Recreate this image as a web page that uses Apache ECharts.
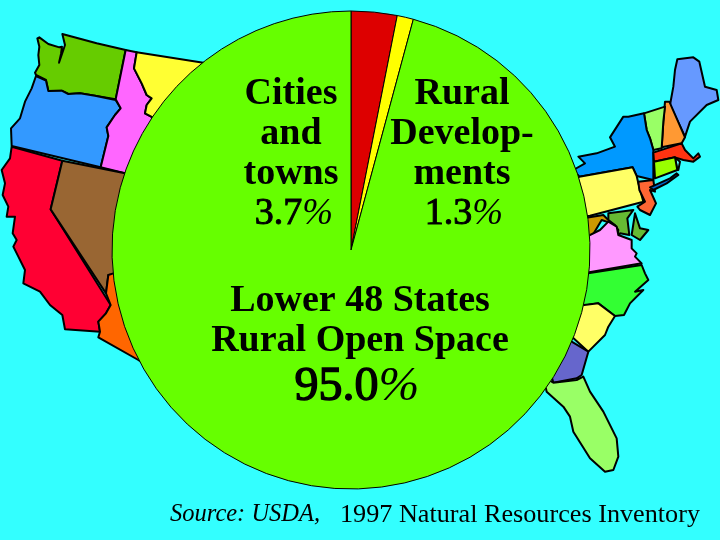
<!DOCTYPE html>
<html><head><meta charset="utf-8">
<style>html,body{margin:0;padding:0;background:#33ffff}#c{width:720px;height:540px}</style>
<script src="https://cdn.jsdelivr.net/npm/echarts@6/dist/echarts.min.js"></script>
</head><body><div id="c"></div>
<script>
// Slice shares as drawn in the picture (the angles), in % of the circle.
const categories = ['Cities and towns', 'Rural Developments', 'Lower 48 States Rural Open Space'];
const drawnShares = [3.1, 1.1, 95.8];
// Percentages as printed on the picture.
const printedLabels = ['3.7', '1.3', '95.0'];
const sliceColors = ['#dd0000', '#ffff00', '#66ff00'];

const W = [0, 30], E = [540, 50], S = [520, 210];
const states = [
 ['#66cc00', W, [112,25,118,22,145,42,178,52,186,50,183,72,177,98,190,60,195,45,187,12,290,40,377,60,347,208,285,197,240,190,205,192,185,182,145,183,138,150,108,135,105,128,118,105,115,75,118,50]],
 ['#3399ff', W, [108,138,138,152,145,183,185,182,205,192,240,190,285,197,347,210,362,235,345,255,320,292,325,318,302,412,35,348,33,295,60,265,75,215,95,175]],
 ['#ff66ff', W, [377,60,410,67,402,115,425,160,440,195,455,205,440,225,435,250,458,262,480,300,420,450,375,430,302,412,325,318,320,292,345,255,362,235,347,208]],
 ['#ffff33', W, [410,67,610,98,660,110,600,300,458,262,435,250,440,225,455,205,440,195,425,160,402,115]],
 ['#ff0033', W, [35,350,187,392,152,538,332,825,318,850,295,875,300,905,195,898,187,855,150,825,120,785,70,760,75,720,55,680,40,650,50,630,38,610,45,560,20,560,25,530,8,495,15,460,5,420,30,385]],
 ['#996633', W, [187,392,375,430,420,560,400,730,325,735,318,790,152,538]],
 ['#ff6600', W, [325,735,340,730,420,830,430,1000,415,990,295,922,300,905,295,875,318,850,332,825,318,790]],
 ['#6699ff', E, [412,28,460,22,478,35,495,110,530,120,535,150,500,165,450,215,435,260,390,165,400,110,405,60]],
 ['#ff9933', E, [375,155,388,155,435,262,425,280,365,292,370,215]],
 ['#99ff66', E, [312,190,375,170,370,215,365,295,340,300,330,265,320,240]],
 ['#0099ff', E, [312,190,320,240,330,265,340,300,340,390,290,378,278,352,118,380,100,360,135,340,115,320,170,310,225,290,210,262,250,200,265,200]],
 ['#66ffff', E, [405,322,420,335,415,360,412,360]],
 ['#ff3311', E, [340,308,425,280,435,300,460,325,475,310,480,320,460,335,430,330,405,322,342,335]],
 ['#99ff00', E, [342,335,405,322,412,360,345,385]],
 ['#ffff66', E, [118,380,278,352,290,378,295,400,310,455,150,497,100,500,90,400]],
 ['#ff6633', E, [295,395,340,390,345,425,330,420,348,460,330,495,300,480,292,470,315,455,298,420]],
 ['#0066cc', E, [330,412,390,385,410,370,415,375,380,400,340,420]],
 ['#66bb33', E, [205,490,280,480,262,505,268,555,240,550,230,565,235,540,225,525,205,510]],
 ['#66bb33', E, [285,490,300,535,325,540,300,570,275,555]],
 ['#cc9900', E, [130,505,190,495,215,520,185,510,155,560,130,570]],
 ['#ff99ff', S, [190,85,240,60,265,35,290,50,295,75,335,90,335,115,350,130,345,140,365,160,190,190]],
 ['#33ff33', S, [170,195,365,165,375,190,385,210,345,245,370,240,330,280,312,315,285,318,235,280,170,290]],
 ['#ffff66', S, [150,290,235,280,285,318,265,350,255,375,205,425,150,375]],
 ['#6666cc', S, [130,380,205,425,185,495,170,505,100,518,90,480]],
 ['#99ff66', S, [80,545,70,500,100,518,170,510,190,500,210,545,250,605,290,685,295,740,280,780,255,785,210,745,185,705,160,665,150,620,130,590]]
];

const mapEls = states.map(([fill, o, p]) => {
  const points = [];
  for (let i = 0; i < p.length; i += 2) points.push([o[0] + p[i] / 3, o[1] + p[i + 1] / 3]);
  return { type: 'polygon', z: 0, silent: true, shape: { points },
    style: { fill, stroke: '#000', lineWidth: 2, lineJoin: 'round' } };
});

const serif = '"Liberation Serif", serif';
const richStyles = {
  t: { fontFamily: serif, fontWeight: 'bold', fontSize: 38, fill: '#000', lineHeight: 40 },
  n: { fontFamily: serif, fontSize: 38, fill: '#000', stroke: '#000', lineWidth: 1, lineHeight: 40 },
  pc: { fontFamily: serif, fontStyle: 'italic', fontSize: 37, fill: '#000', lineHeight: 40 },
  big: { fontFamily: serif, fontSize: 48, fill: '#000', stroke: '#000', lineWidth: 1.4, lineHeight: 50 },
  bigp: { fontFamily: serif, fontStyle: 'italic', fontSize: 49, fill: '#000', lineHeight: 50 }
};
const textEl = (x, y, text, align = 'center') => ({
  type: 'text', z: 20, silent: true, x, y,
  style: { text, rich: richStyles, align, verticalAlign: 'middle', fontFamily: serif }
});

const labels = [
  textEl(291, 94, '{t|Cities}'), textEl(291, 134, '{t|and}'), textEl(291, 174, '{t|towns}'),
  textEl(294, 214, `{n|${printedLabels[0]}}{pc|%}`),
  textEl(462, 94, '{t|Rural}'), textEl(462, 134, '{t|Develop-}'), textEl(462, 174, '{t|ments}'),
  textEl(464, 214, `{n|${printedLabels[1]}}{pc|%}`),
  textEl(360, 301, '{t|Lower 48 States}'), textEl(360, 341, '{t|Rural Open Space}'),
  textEl(357, 387, `{big|${printedLabels[2]}}{bigp|%}`),
  { type: 'text', z: 20, silent: true, x: 170, y: 515,
    style: { text: 'Source: USDA,', fontFamily: serif, fontStyle: 'italic', fontSize: 24.5, fill: '#000', verticalAlign: 'middle' } },
  { type: 'text', z: 20, silent: true, x: 340, y: 515,
    style: { text: '1997 Natural Resources Inventory', fontFamily: serif, fontSize: 26.2, fill: '#000', verticalAlign: 'middle' } }
];

const chart = echarts.init(document.getElementById('c'), null, { renderer: 'canvas' });
chart.setOption({
  backgroundColor: '#33ffff',
  animation: false,
  graphic: { elements: [...mapEls, ...labels] },
  series: [{
    type: 'pie', z: 10, silent: true, center: [351, 250], radius: [0, 239],
    startAngle: 90, clockwise: true, minAngle: 0, label: { show: false }, labelLine: { show: false },
    itemStyle: { borderColor: '#000', borderWidth: 1 },
    data: categories.map((name, i) => ({ name, value: drawnShares[i], itemStyle: { color: sliceColors[i] } }))
  }]
});
</script></body></html>
